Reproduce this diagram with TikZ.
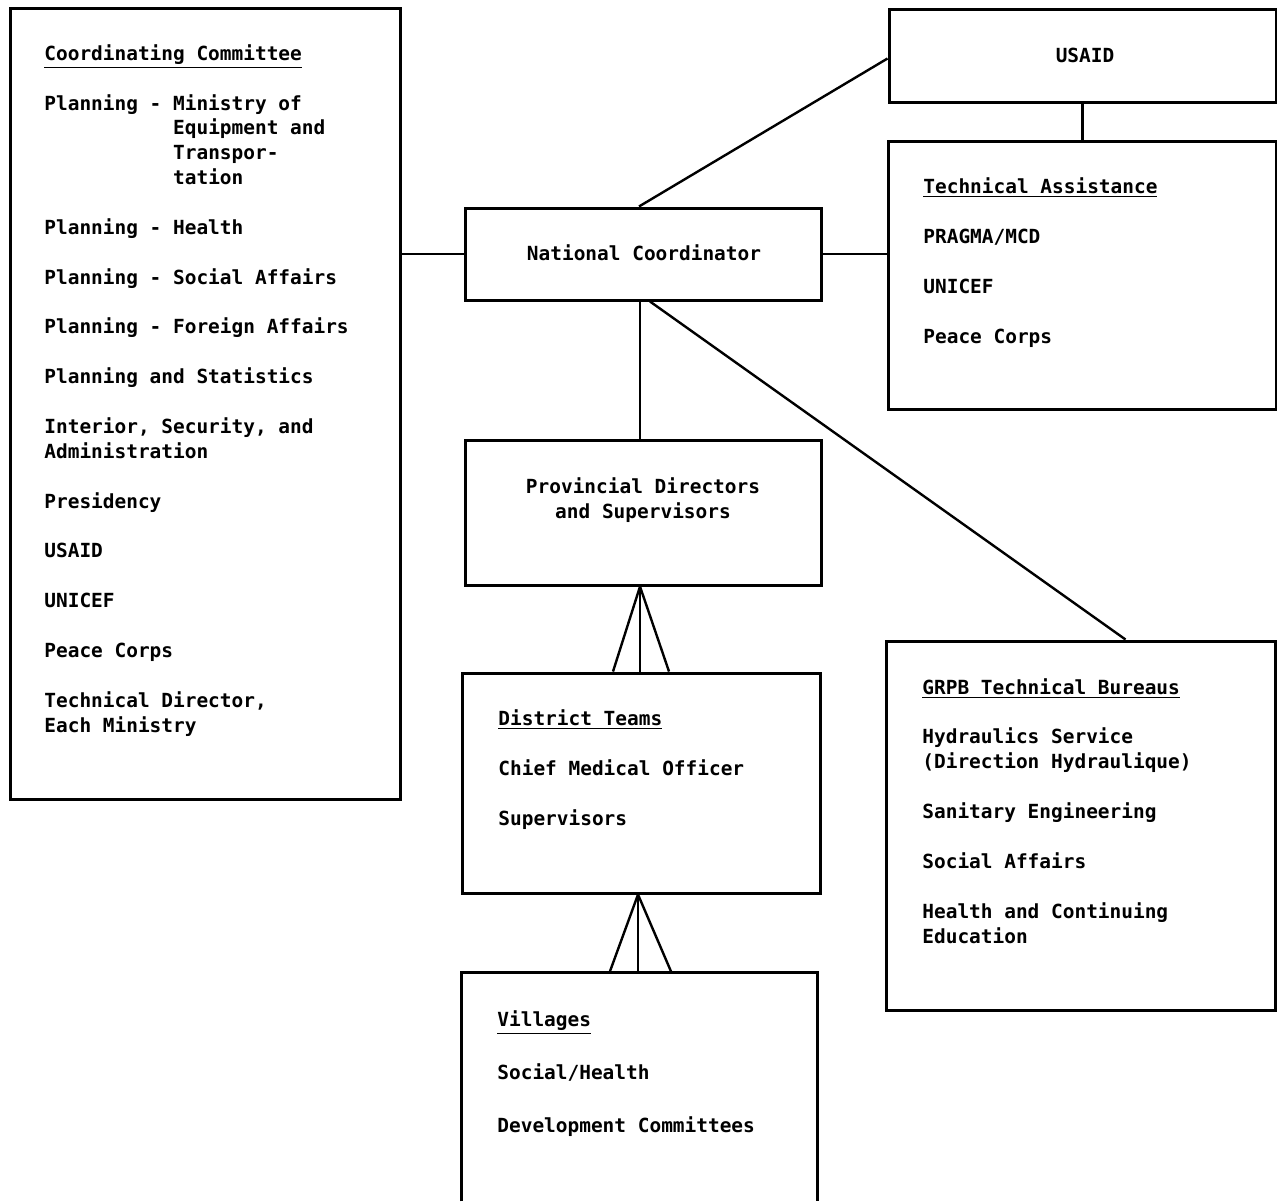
\documentclass[tikz,border=0pt]{standalone}
\usepackage{fontspec}
\setmonofont{DejaVu Sans Mono}
\usetikzlibrary{fit}
\tikzset{
  boxnode/.style={draw, line width=1.5pt, rectangle, inner sep=0pt},
  openbox/.style={draw=none, rectangle, inner sep=0pt},
  conn/.style={line width=1.2pt},
  txt/.style={font=\ttfamily\bfseries\fontsize{9.72}{12.44}\selectfont, inner sep=0pt},
  listtxt/.style={txt, align=left, anchor=base west},
  ctxt/.style={txt, align=center, anchor=base}
}
\newcommand\gapline{\\[12.44pt]}
\begin{document}
\begin{tikzpicture}[x=0.5pt,y=-0.5pt]
\useasboundingbox (0,0) rectangle (1277,1201);
% corner coordinates of the boxes
\coordinate (cc1) at (10,8);     \coordinate (cc2) at (400,799);
\coordinate (nc1) at (465,208);  \coordinate (nc2) at (821,300);
\coordinate (us1) at (889,9);    \coordinate (us2) at (1276,102);
\coordinate (ta1) at (888,141);  \coordinate (ta2) at (1276,409);
\coordinate (pr1) at (465,440);  \coordinate (pr2) at (821,585);
\coordinate (gr1) at (886,641);  \coordinate (gr2) at (1275,1010);
\coordinate (di1) at (462,673);  \coordinate (di2) at (820,893);
\coordinate (vi1) at (462,973);  \coordinate (vi2) at (817,1201);
% boxes
\node[boxnode, fit=(cc1)(cc2)] (cc) {};
\node[boxnode, fit=(nc1)(nc2)] (nc) {};
\node[boxnode, fit=(us1)(us2)] (usaid) {};
\node[boxnode, fit=(ta1)(ta2)] (ta) {};
\node[boxnode, fit=(pr1)(pr2)] (prov) {};
\node[boxnode, fit=(gr1)(gr2)] (grpb) {};
\node[boxnode, fit=(di1)(di2)] (dist) {};
\node[openbox, fit=(vi1)(vi2)] (vill) {};
\draw[line width=1.5pt] (vill.south west) -- (vill.north west) -- (vill.north east) -- (vill.south east);
% texts (multi-line nodes are placed by the baseline of their last line)
\node[listtxt] (cctext) at (44,732) {\underline{Coordinating Committee}\gapline
Planning - Ministry of\\
\phantom{Planning - }Equipment and\\
\phantom{Planning - }Transpor-\\
\phantom{Planning - }tation\gapline
Planning - Health\gapline
Planning - Social Affairs\gapline
Planning - Foreign Affairs\gapline
Planning and Statistics\gapline
Interior, Security, and\\
Administration\gapline
Presidency\gapline
USAID\gapline
UNICEF\gapline
Peace Corps\gapline
Technical Director,\\
Each Ministry};
\node[ctxt] (nctext) at (644,260) {National Coordinator};
\node[ctxt] (ustext) at (1085,62) {USAID};
\node[listtxt] (tatext) at (923,343) {\underline{Technical Assistance}\gapline
PRAGMA/MCD\gapline
UNICEF\gapline
Peace Corps};
\node[ctxt] (prtext) at (643,518) {Provincial Directors\\and Supervisors};
\node[listtxt] (grtext) at (922,943) {\underline{GRPB Technical Bureaus}\gapline
Hydraulics Service\\
(Direction Hydraulique)\gapline
Sanitary Engineering\gapline
Social Affairs\gapline
Health and Continuing\\
Education};
\node[listtxt] (ditext) at (498,825) {\underline{District Teams}\gapline
Chief Medical Officer\gapline
Supervisors};
\node[listtxt, font=\ttfamily\bfseries\fontsize{9.72}{13.2}\selectfont] (vitext) at (497,1132) {\underline{Villages}\\[13.2pt]
Social/Health\\[13.2pt]
Development Committees};
% connectors
\coordinate (ap1) at ([xshift=-1.5pt]prov.south);
\coordinate (ap2) at ([xshift=-1.5pt]dist.south);
\draw[conn] (nc.west -| cc.east) -- (nc.west);
\draw[conn] (nc.east) -- (nc.east -| ta.west);
\draw[conn] (usaid.south) -- (usaid.south |- ta.north);
\draw[conn] ([xshift=-2pt]nc.north) -- ([yshift=-1.5pt]usaid.west);
\draw[conn] ([xshift=-1.5pt]nc.south) -- ([xshift=-1.5pt]prov.north);
\draw[conn] ([xshift=3.5pt]nc.south) -- ([xshift=22.5pt]grpb.north);
\draw[conn] (ap1) -- ([xshift=-14pt]dist.north);
\draw[conn] (ap1) -- (ap1 |- dist.north);
\draw[conn] (ap1) -- ([xshift=14pt]dist.north);
\draw[conn] (ap2) -- ([xshift=-15pt]vill.north);
\draw[conn] (ap2) -- (ap2 |- vill.north);
\draw[conn] (ap2) -- ([xshift=16pt]vill.north);
\end{tikzpicture}
\end{document}
